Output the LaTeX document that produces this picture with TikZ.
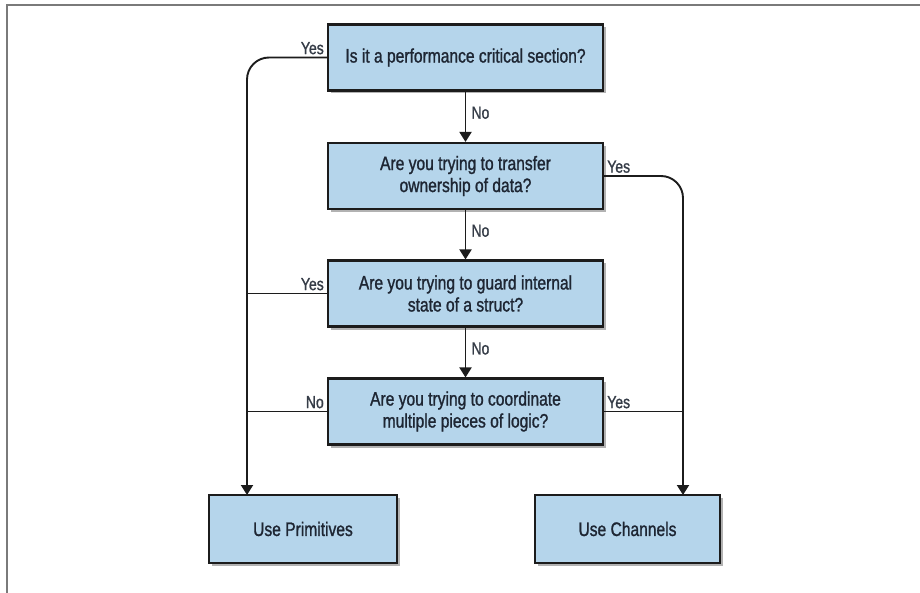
\documentclass[tikz,border=0pt]{standalone}
\usepackage{fontspec}
\setmainfont{Liberation Sans}[FakeStretch=0.8, FakeBold=1.2]
\usetikzlibrary{arrows.meta,shadows,calc}
\definecolor{boxfill}{HTML}{B5D5EB}
\definecolor{boxline}{HTML}{1C1C1C}
\definecolor{boxtext}{HTML}{1E2633}
\definecolor{framegray}{HTML}{7A7A7A}
\tikzset{
  qbox/.style={draw=boxline, line width=2.1pt, fill=boxfill, text=boxtext,
    minimum width=275pt, minimum height=66pt, align=center, inner sep=0pt,
    font=\fontsize{19.5}{22}\selectfont,
    drop shadow={shadow xshift=2.5pt, shadow yshift=-3pt, opacity=0.3, fill=black}},
  flow/.style={draw=boxline, line width=1.9pt, -{Triangle[width=12pt,length=10pt]}},
  link/.style={draw=boxline, line width=1.6pt},
  lbl/.style={text=boxtext!90!white, font=\fontsize{17.5}{20}\selectfont, inner sep=1pt}
}
\begin{document}
\begin{tikzpicture}[x=1pt,y=-1pt]
\useasboundingbox (0,0) rectangle (920,593);
\fill[white] (0,0) rectangle (920,593);
\draw[framegray, line width=2pt] (7,593) -- (7,5) -- (920,5);

\node[qbox] (b1) at (465.5,57.5) {Is it a performance critical section?};
\node[qbox] (b2) at (465.5,176) {Are you trying to transfer\\ownership of data?};
\node[qbox] (b3) at (465.5,293.5) {Are you trying to guard internal\\state of a struct?};
\node[qbox] (b4) at (465.5,411.5) {Are you trying to coordinate\\multiple pieces of logic?};
\node[qbox, minimum width=188pt, minimum height=68pt] (p) at (303,529) {Use Primitives};
\node[qbox, minimum width=185pt, minimum height=68pt] (c) at (627.5,529) {Use Channels};

\coordinate (pin) at (247,495);
\coordinate (cin) at (683,495);

% centre column
\draw[flow] (b1.south) -- node[lbl, right, xshift=4pt, yshift=4pt] {No} (b2.north);
\draw[flow] (b2.south) -- node[lbl, right, xshift=4pt, yshift=4pt] {No} (b3.north);
\draw[flow] (b3.south) -- node[lbl, right, xshift=4pt, yshift=4pt] {No} (b4.north);

% left side
\draw[flow, rounded corners=22pt] (b1.west) -| (pin);
\draw[link] (b3.west) -- (b3.west -| pin);
\draw[link] (b4.west) -- (b4.west -| pin);
\node[lbl, anchor=south east] at ($(b1.west)+(-2,-2)$) {Yes};
\node[lbl, anchor=south east] at ($(b3.west)+(-2,-2)$) {Yes};
\node[lbl, anchor=south east] at ($(b4.west)+(-2,-2)$) {No};

% right side
\draw[flow, rounded corners=22pt] (b2.east) -| (cin);
\draw[link] (b4.east) -- (b4.east -| cin);
\node[lbl, anchor=south west] at ($(b2.east)+(2,-2)$) {Yes};
\node[lbl, anchor=south west] at ($(b4.east)+(2,-2)$) {Yes};
\end{tikzpicture}
\end{document}
